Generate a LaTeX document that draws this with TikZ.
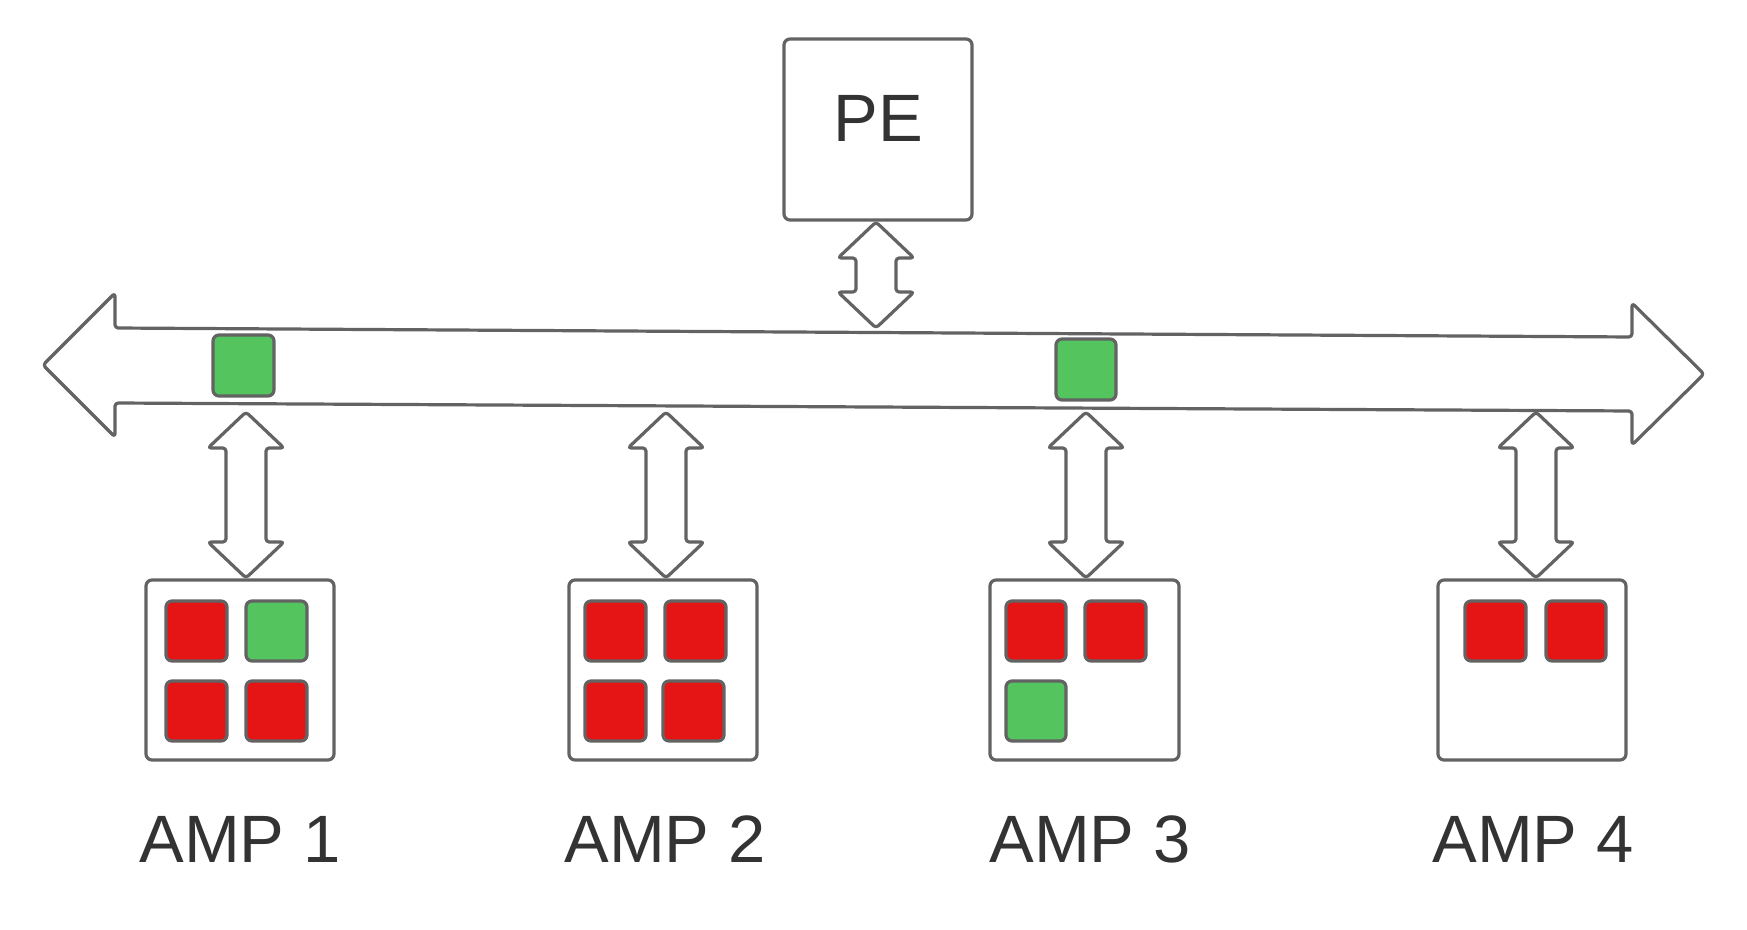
\documentclass[tikz,border=0pt]{standalone}
\usepackage{fontspec}
\setmainfont{Liberation Sans}
\definecolor{edgegray}{HTML}{636363}
\definecolor{txtgray}{HTML}{333333}
\definecolor{cellred}{HTML}{E51515}
\definecolor{cellgreen}{HTML}{54C45E}
\tikzset{
  outline/.style={draw=edgegray, line width=1.6pt, line join=round},
  panel/.style={outline, fill=white, rounded corners=3pt},
  blockarrow/.style={outline, fill=white, rounded corners=1.6pt},
  cell/.style={outline, rounded corners=3pt},
  redcell/.style={cell, fill=cellred},
  greencell/.style={cell, fill=cellgreen},
  lbl/.style={text=txtgray, anchor=base, inner sep=0pt, font=\fontsize{33.5}{40}\selectfont}
}
% vertical double block arrow: centre x, top tip y, bottom tip y
\newcommand{\vdblarrow}[3]{%
  \draw[blockarrow] (#1,#2) -- (#1+38,#2+36) -- (#1+20,#2+36) -- (#1+20,#3-36)
    -- (#1+38,#3-36) -- (#1,#3) -- (#1-38,#3-36) -- (#1-20,#3-36)
    -- (#1-20,#2+36) -- (#1-38,#2+36) -- cycle;}
\begin{document}
\begin{tikzpicture}[x=0.5pt, y=-0.5pt]
\useasboundingbox (0,0) rectangle (1747,930);
\fill[white] (0,0) rectangle (1747,930);

% bus (horizontal double block arrow)
\draw[blockarrow] (43,365) -- (115,293) -- (115,328) -- (1632,337) -- (1632,303)
  -- (1704,374) -- (1632,445) -- (1632,411) -- (115,403) -- (115,437) -- cycle;

% cells on the bus
\draw[greencell] (213,335) rectangle (274,396);
\draw[greencell] (1056,339) rectangle (1116,400);

% PE
\draw[panel] (784,39) rectangle (972,220);
\node[lbl] (pe) at (878,142) {PE};
\vdblarrow{876}{222}{328}

% AMP boxes
\draw[panel] (146,580) rectangle (334,760);
\draw[panel] (569,580) rectangle (757,760);
\draw[panel] (990,580) rectangle (1179,760);
\draw[panel] (1438,580) rectangle (1626,760);

% arrows bus <-> AMPs
\vdblarrow{246}{412}{578}
\vdblarrow{666}{412}{578}
\vdblarrow{1086}{412}{578}
\vdblarrow{1536}{412}{578}

% AMP 1 cells
\draw[redcell]   (166,601) rectangle (227,661);
\draw[greencell] (246,601) rectangle (307,661);
\draw[redcell]   (166,681) rectangle (227,741);
\draw[redcell]   (246,681) rectangle (307,741);
% AMP 2 cells
\draw[redcell] (585,601) rectangle (646,661);
\draw[redcell] (665,601) rectangle (726,661);
\draw[redcell] (585,681) rectangle (646,741);
\draw[redcell] (663,681) rectangle (724,741);
% AMP 3 cells
\draw[redcell]   (1006,601) rectangle (1066,661);
\draw[redcell]   (1085,601) rectangle (1146,661);
\draw[greencell] (1006,681) rectangle (1066,741);
% AMP 4 cells
\draw[redcell] (1465,601) rectangle (1526,661);
\draw[redcell] (1546,601) rectangle (1606,661);

% labels
\node[lbl] (l1) at (240,862) {AMP 1};
\node[lbl] (l2) at (665,862) {AMP 2};
\node[lbl] (l3) at (1090,862) {AMP 3};
\node[lbl] (l4) at (1533,862) {AMP 4};
\end{tikzpicture}
\end{document}
